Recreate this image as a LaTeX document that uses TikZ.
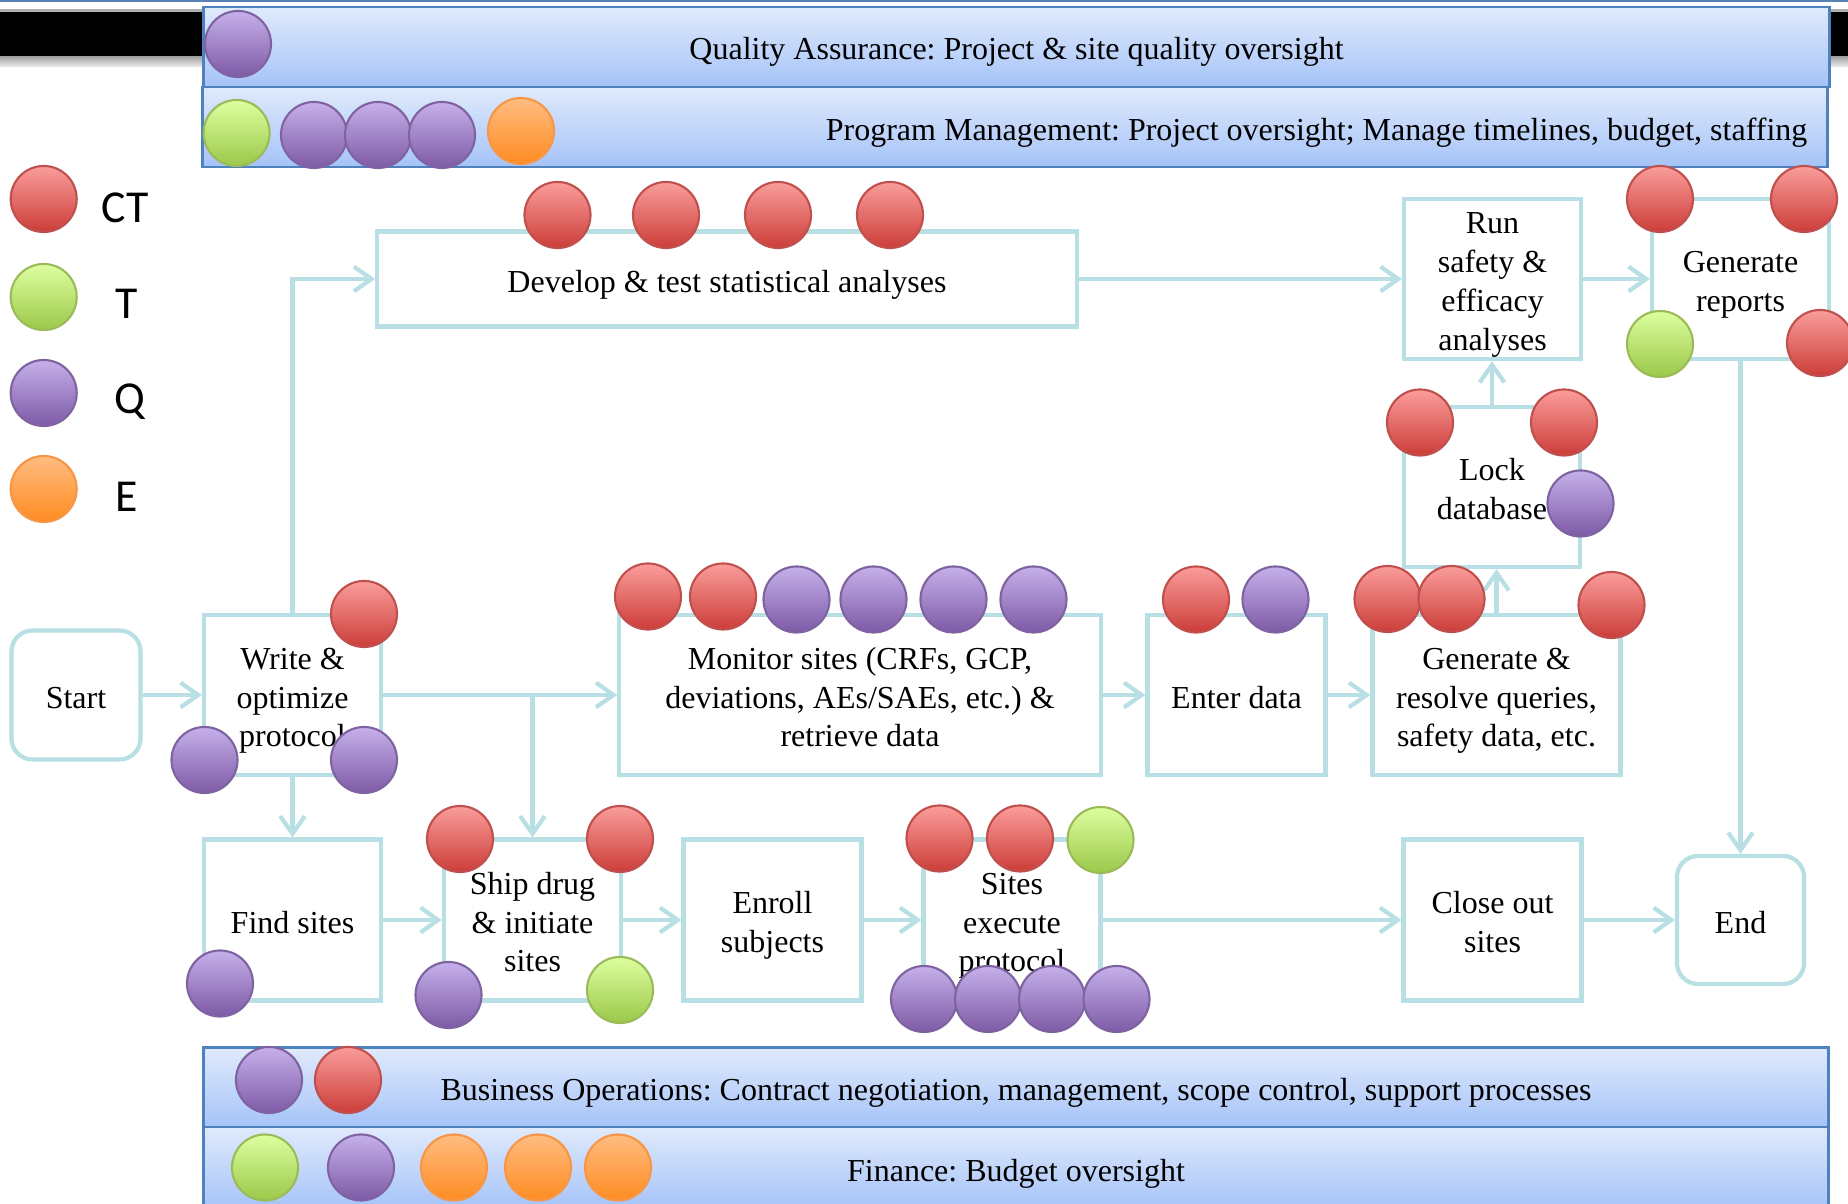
\documentclass[tikz,border=0pt]{standalone}
\usepackage{fontspec}
\setmainfont{Liberation Serif}
\newfontfamily\legendfont{Carlito}
\usetikzlibrary{arrows.meta}
\frenchspacing
\newcommand\topst{\rule{0pt}{9.6pt}}
\newcommand\botst{\rule[-2.2pt]{0pt}{2.2pt}}
\definecolor{tealL}{RGB}{184,223,227}
\definecolor{bandT}{HTML}{E0EAFC}
\definecolor{bandB}{HTML}{A5C3F8}
\definecolor{bandL}{HTML}{4F81BD}
\definecolor{redT}{HTML}{FA9D9B}
\definecolor{redB}{HTML}{CC3D39}
\definecolor{redL}{HTML}{C0504D}
\definecolor{grnT}{HTML}{DDFF9F}
\definecolor{grnB}{HTML}{9BC84A}
\definecolor{grnL}{HTML}{9BBB59}
\definecolor{purT}{HTML}{C6B0EA}
\definecolor{purB}{HTML}{7D5AA6}
\definecolor{purL}{HTML}{7F63A1}
\definecolor{orT}{HTML}{FFBC80}
\definecolor{orB}{HTML}{FF8C22}
\definecolor{orL}{HTML}{F79646}
\tikzset{
  stepbox/.style={draw=tealL, line width=1.2pt, fill=white, rectangle, align=center, inner sep=0pt},
  termbox/.style={stepbox, rounded corners=6pt},
  conn/.style={draw=tealL, line width=1.2pt, -{Straight Barb[length=5pt,width=7pt]}},
  band/.style={draw=bandL, line width=0.7pt, top color=bandT, bottom color=bandB, rectangle, inner sep=0pt},
  cir/.style={circle, minimum size=0.66cm, inner sep=0pt, line width=0.6pt},
  ctdot/.style={cir, draw=redL, top color=redT, bottom color=redB},
  tdot/.style={cir, draw=grnL, top color=grnT, bottom color=grnB},
  qdot/.style={cir, draw=purL, top color=purT, bottom color=purB},
  edot/.style={cir, draw=orL, top color=orT, bottom color=orB},
  legtext/.style={font=\legendfont\fontsize{13}{15}\selectfont, inner sep=0pt},
}
\begin{document}
\begin{tikzpicture}[x=0.01cm, y=-0.01cm, font=\fontsize{9.1}{11}\selectfont]
\clip (0,0) rectangle (1848,1204);
\fill[white] (0,0) rectangle (1848,1204);
% title bar
\fill[bandL!80!gray] (0,0) rectangle (1848,2);
\fill[gray!60] (0,9) rectangle (1848,12);
\fill[black] (0,12) rectangle (1848,57);
\shade[top color=gray!70, bottom color=gray!15] (0,57) rectangle (1848,67);
% bands
\node[band, minimum width=16.25cm, minimum height=0.80cm] (qa) at (1016.5,47) {\topst Quality Assurance: Project \& site quality oversight\botst};
\node[band, minimum width=16.24cm, minimum height=0.80cm] (pm) at (1015,127) {};
\node[anchor=east, inner sep=0pt] (pmtext) at (1808,128) {\topst Program Management: Project oversight; Manage timelines, budget, staffing\botst};
\node[band, minimum width=16.24cm, minimum height=0.80cm] (bo) at (1016,1087.5) {\topst Business Operations: Contract negotiation, management, scope control, support processes\botst};
\node[band, minimum width=16.24cm, minimum height=0.82cm] (fin) at (1016,1168) {\topst Finance: Budget oversight\botst};
% steps
\node[termbox, minimum width=1.29cm, minimum height=1.29cm] (start) at (76,695) {\topst Start\botst};
\node[stepbox, minimum width=1.77cm, minimum height=1.60cm] (write) at (292.5,695) {\topst Write \&\\optimize\\protocol\botst};
\node[stepbox, minimum width=6.99cm, minimum height=0.95cm] (develop) at (727,279) {\topst Develop \& test statistical analyses\botst};
\node[stepbox, minimum width=1.77cm, minimum height=1.60cm] (run) at (1492.5,279) {\topst Run\\safety \&\\efficacy\\analyses\botst};
\node[stepbox, minimum width=1.77cm, minimum height=1.60cm] (reports) at (1740.5,279) {\topst Generate\\reports\botst};
\node[stepbox, minimum width=1.76cm, minimum height=1.60cm] (lock) at (1492,487) {\topst Lock\\database\botst};
\node[stepbox, minimum width=4.81cm, minimum height=1.60cm] (monitor) at (860,695) {\topst Monitor sites (CRFs, GCP,\\deviations, AEs/SAEs, etc.) \&\\retrieve data\botst};
\node[stepbox, minimum width=1.78cm, minimum height=1.60cm] (enter) at (1236.5,695) {\topst Enter data\botst};
\node[stepbox, minimum width=2.48cm, minimum height=1.60cm] (queries) at (1496.5,695) {\topst Generate \&\\resolve queries,\\safety data, etc.\botst};
\node[stepbox, minimum width=1.77cm, minimum height=1.61cm] (find) at (292.5,920) {\topst Find sites\botst};
\node[stepbox, minimum width=1.77cm, minimum height=1.61cm] (ship) at (532.5,920) {\topst Ship drug\\\& initiate\\sites\botst};
\node[stepbox, minimum width=1.78cm, minimum height=1.61cm] (enroll) at (772.5,920) {\topst Enroll\\subjects\botst};
\node[stepbox, minimum width=1.77cm, minimum height=1.61cm] (execute) at (1012,920) {\topst Sites\\execute\\protocol\botst};
\node[stepbox, minimum width=1.78cm, minimum height=1.61cm] (close) at (1492.5,920) {\topst Close out\\sites\botst};
\node[termbox, minimum width=1.27cm, minimum height=1.28cm] (end) at (1740.5,920) {\topst End\botst};
% connectors
\coordinate (br) at (ship.north |- write.east);
\draw[conn] (start.east) -- (start.east -| write.west);
\draw[conn] (write.north) |- (develop.west);
\draw[conn] (write.east) -- (write.east -| monitor.west);
\draw[conn] (br) -- (ship.north);
\draw[conn] (write.south) -- (find.north);
\draw[conn] (find.east) -- (find.east -| ship.west);
\draw[conn] (ship.east) -- (ship.east -| enroll.west);
\draw[conn] (enroll.east) -- (enroll.east -| execute.west);
\draw[conn] (execute.east) -- (execute.east -| close.west);
\draw[conn] (close.east) -- (close.east -| end.west);
\draw[conn] (monitor.east) -- (monitor.east -| enter.west);
\draw[conn] (enter.east) -- (enter.east -| queries.west);
\draw[conn] (queries.north) -- (queries.north |- lock.south);
\draw[conn] (lock.north) -- (lock.north |- run.south);
\draw[conn] (develop.east) -- (develop.east -| run.west);
\draw[conn] (run.east) -- (run.east -| reports.west);
\draw[conn] (reports.south) -- (reports.south |- end.north);
% legend
\node[ctdot] (lg1) at (43.7,199) {};
\node[tdot] (lg2) at (43.7,297) {};
\node[qdot] (lg3) at (43.7,393) {};
\node[edot] (lg4) at (43.7,489) {};
\node[legtext] (lt1) at (125,207.5) {CT};
\node[legtext] (lt2) at (127,304) {T};
\node[legtext] (lt3) at (130,402) {Q};
\node[legtext] (lt4) at (127,497) {E};
% band dots
\node[qdot] (qa1) at (238,44) {};
\node[tdot] (pm1) at (236.6,133) {};
\node[qdot] (pm2) at (314,135) {};
\node[qdot] (pm3) at (378,135) {};
\node[qdot] (pm4) at (442,135) {};
\node[edot] (pm5) at (521,131) {};
\node[qdot] (bo1) at (269,1080) {};
\node[ctdot] (bo2) at (348,1080) {};
\node[tdot] (fi1) at (265,1167.5) {};
\node[qdot] (fi2) at (361,1167.5) {};
\node[edot] (fi3) at (454,1167.5) {};
\node[edot] (fi4) at (538,1167.5) {};
\node[edot] (fi5) at (618,1167.5) {};
% develop dots
\node[ctdot] (dv1) at (557.5,215) {};
\node[ctdot] (dv2) at (666,215) {};
\node[ctdot] (dv3) at (778,215) {};
\node[ctdot] (dv4) at (890,215) {};
% reports dots
\node[ctdot] (rp1) at (1660,199) {};
\node[ctdot] (rp2) at (1804,199) {};
\node[tdot] (rp3) at (1660,344) {};
\node[ctdot] (rp4) at (1820,343) {};
% lock dots
\node[ctdot] (lk1) at (1420,422.5) {};
\node[ctdot] (lk2) at (1564,422.5) {};
\node[qdot] (lk3) at (1580.5,503.5) {};
% monitor dots
\node[ctdot] (mo1) at (648,596.5) {};
\node[ctdot] (mo2) at (723,596.5) {};
\node[qdot] (mo3) at (796.5,599.5) {};
\node[qdot] (mo4) at (873.5,599.5) {};
\node[qdot] (mo5) at (953.5,599.5) {};
\node[qdot] (mo6) at (1033.5,599.5) {};
% enter dots
\node[ctdot] (en1) at (1196,599.5) {};
\node[qdot] (en2) at (1275.5,599.5) {};
% queries dots
\node[ctdot] (qu1) at (1387.5,599) {};
\node[ctdot] (qu2) at (1451.5,599) {};
\node[ctdot] (qu3) at (1611.5,605) {};
% write dots
\node[ctdot] (wr1) at (364,614) {};
\node[qdot] (wr2) at (204.5,760) {};
\node[qdot] (wr3) at (364,760) {};
% find dots
\node[qdot] (fd1) at (220,983.5) {};
% ship dots
\node[ctdot] (sh1) at (460,839) {};
\node[ctdot] (sh2) at (620,839) {};
\node[qdot] (sh3) at (448.5,995) {};
\node[tdot] (sh4) at (620,990) {};
% execute dots
\node[ctdot] (ex1) at (939.5,838.5) {};
\node[ctdot] (ex2) at (1020,838.5) {};
\node[tdot] (ex3) at (1100.5,840) {};
\node[qdot] (ex4) at (924,999) {};
\node[qdot] (ex5) at (988,999) {};
\node[qdot] (ex6) at (1052,999) {};
\node[qdot] (ex7) at (1116.5,999) {};
\end{tikzpicture}
\end{document}
